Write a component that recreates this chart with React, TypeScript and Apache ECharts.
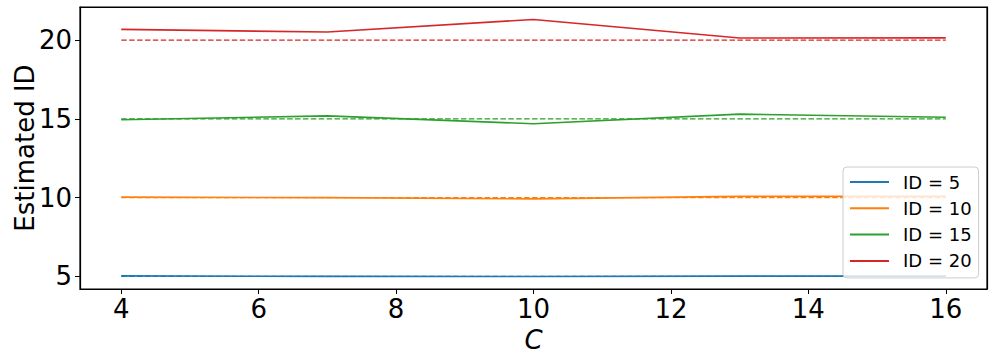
import React, { useEffect, useRef } from "react";
import * as echarts from "echarts";

const cValues = [4, 7, 10, 13, 16];
const id5 = [5.03, 5.0, 4.99, 5.02, 5.02];
const id10 = [10.03, 10.0, 9.92, 10.08, 10.08];
const id15 = [14.94, 15.19, 14.69, 15.3, 15.1];
const id20 = [20.68, 20.51, 21.31, 20.13, 20.14];
const trueIds = [5, 10, 15, 20];
const seriesNames = ["ID = 5", "ID = 10", "ID = 15", "ID = 20"];
const colors = ["#1f77b4", "#ff7f0e", "#2ca02c", "#d62728"];
const xTicks = [4, 6, 8, 10, 12, 14, 16];
const yTicks = [5, 10, 15, 20];

const FONT = "DejaVu Sans";

export default function App() {
  const ref = useRef<HTMLDivElement>(null);
  useEffect(() => {
    if (!ref.current) return;
    const chart = echarts.init(ref.current, undefined, { renderer: "svg" });
    const estimates = [id5, id10, id15, id20];
    const series: any[] = [];
    estimates.forEach((vals, i) => {
      series.push({
        name: seriesNames[i],
        type: "line",
        data: cValues.map((c, j) => [c, vals[j]]),
        symbol: "none",
        showSymbol: false,
        lineStyle: { color: colors[i], width: 1.6 },
        itemStyle: { color: colors[i] },
        z: 2,
      });
      series.push({
        name: "ref" + trueIds[i],
        type: "line",
        data: [
          [cValues[0], trueIds[i]],
          [cValues[cValues.length - 1], trueIds[i]],
        ],
        symbol: "none",
        lineStyle: { color: colors[i], width: 1.4, type: [5.5, 2.4] },
        itemStyle: { color: colors[i] },
        z: 2,
      });
    });
    chart.setOption({
      animation: false,
      grid: {
        left: 80,
        top: 7,
        right: 9,
        bottom: 72,
        containLabel: false,
        outerBoundsMode: "none",
        show: true,
        borderColor: "#000",
        borderWidth: 1.2,
        backgroundColor: "rgba(0,0,0,0)",
      },
      xAxis: [
        {
          type: "value",
          min: 3.4,
          max: 16.6,
          name: "C",
          nameLocation: "middle",
          nameGap: 38,
          nameMoveOverlap: false,
          nameTextStyle: { fontFamily: FONT, fontSize: 26, fontStyle: "italic", color: "#000" },
          axisLine: { show: true, onZero: false, lineStyle: { color: "#000", width: 1.2 } },
          axisTick: { show: true, length: 5, lineStyle: { color: "#000" }, customValues: xTicks },
          axisLabel: { fontFamily: FONT, fontSize: 26, color: "#000", margin: 7, customValues: xTicks },
          splitLine: { show: false },
        },
        {
          type: "value",
          position: "top",
          min: 3.4,
          max: 16.6,
          axisLine: { show: true, lineStyle: { color: "#000", width: 1.2 } },
          axisTick: { show: false },
          axisLabel: { show: false },
          splitLine: { show: false },
        },
      ],
      yAxis: [
        {
          type: "value",
          min: 4.2,
          max: 22.1,
          name: "Estimated ID",
          nameLocation: "middle",
          nameGap: 42,
          nameMoveOverlap: false,
          nameTextStyle: { fontFamily: FONT, fontSize: 26, color: "#000" },
          axisLine: { show: true, onZero: false, lineStyle: { color: "#000", width: 1.2 } },
          axisTick: { show: true, length: 5, lineStyle: { color: "#000" }, customValues: yTicks },
          axisLabel: { fontFamily: FONT, fontSize: 26, color: "#000", margin: 8, customValues: yTicks },
          splitLine: { show: false },
        },
        {
          type: "value",
          position: "right",
          min: 4.2,
          max: 22.1,
          axisLine: { show: true, lineStyle: { color: "#000", width: 1.2 } },
          axisTick: { show: false },
          axisLabel: { show: false },
          splitLine: { show: false },
        },
      ],
      legend: {
        data: seriesNames,
        orient: "vertical",
        left: 843,
        top: 167,
        icon: "rect",
        itemWidth: 39,
        itemHeight: 2,
        itemGap: 8.3,
        padding: [6, 7, 8, 7],
        backgroundColor: "rgba(255,255,255,0.8)",
        borderColor: "#cccccc",
        borderWidth: 1,
        borderRadius: 4,
        textStyle: { fontFamily: FONT, fontSize: 18, lineHeight: 18, color: "#000", padding: [0, 0, 0, 9] },
      },
      series,
    });
    return () => chart.dispose();
  }, []);
  return (
    <div
      ref={ref}
      style={{ position: "fixed", left: 0, top: 0, width: 996, height: 361, background: "#fff" }}
    />
  );
}
